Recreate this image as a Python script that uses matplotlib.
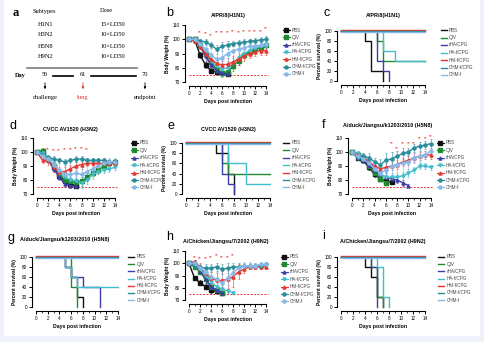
import matplotlib
matplotlib.use("Agg")
import matplotlib.pyplot as plt
from matplotlib.lines import Line2D
from matplotlib.patches import Rectangle, FancyArrowPatch

plt.rcParams['font.family'] = ['Liberation Sans', 'DejaVu Sans']

W, H = 484, 342

groups = ['PBS', 'QIV', 'rHA/CPG', 'HA-f/CPG', 'HM-f/CPG', 'CHM-f/CPG', 'CHM-f']
colors = ['#111111', '#1f8a30', '#3b3fa6', '#45bccb', '#e8372f', '#2b8d9b', '#86b8ea']
markers = ['s', 's', '^', 'v', '^', 'o', 'o']

# panel a
subtypes = ['H1N1', 'H3N2', 'H5N8', 'H9N2']
doses = ['15×LD50', '10×LD50', '10×LD50', '10×LD50']
days_tl = ['56', '61', '70']
events = ['challenge', 'lung', 'endpoint']

# body weight (%) per day, order follows groups
b_title = 'A/PR/8(H1N1)'
b_weight = [
    [100, 100, 89, 82, 78, 77, 76, 75.5],
    [100, 100, 96, 90, 84, 79, 76.5, 77, 81, 85, 89, 91, 93, 94, 96],
    [100, 99, 95, 88, 82, 78, 76, 75.5],
    [100, 99, 96, 91, 85, 81, 79, 80, 83, 87, 90, 92, 94, 95, 95],
    [100, 99, 95, 90, 86, 83, 82, 82.5, 84, 86, 88, 90, 91, 92, 92],
    [100, 100, 99, 98, 96, 93, 95, 96, 97, 97.5, 98, 98.5, 99, 99.5, 100],
    [100, 100, 97, 93, 89, 86, 87, 90, 92, 93, 94, 95, 95, 96, 97],
]
b_err = [
    [0, 1, 2, 2, 2, 1, 1, 1],
    [0, 1, 2, 2, 3, 3, 3, 3, 3, 3, 2, 2, 2, 2, 2],
    [0, 1, 2, 3, 2, 2, 1, 1],
    [0, 1, 2, 3, 3, 3, 4, 5, 4, 4, 3, 3, 3, 3, 3],
    [0, 1, 2, 2, 3, 3, 3, 4, 4, 4, 3, 3, 3, 3, 3],
    [0, 1, 1, 2, 2, 3, 3, 3, 2, 2, 2, 2, 2, 2, 2],
    [0, 1, 2, 3, 5, 6, 7, 6, 5, 4, 4, 3, 3, 3, 3],
]
b_stars = [2, 3, 4, 5, 6, 7, 8, 9, 10, 11, 12, 13, 14]
b_star_y = [103, 102, 101, 103, 103, 103, 104, 103, 104, 104, 104, 104, 106]

d_title = 'CVCC AV1520 (H3N2)'
d_weight = [
    [100, 99, 95, 89, 83, 79, 77, 76],
    [100, 101, 95, 90, 84, 80, 79, 78.5, 79, 82, 85, 87, 90, 92, 93],
    [100, 98, 94, 88, 82, 77, 76, 75.5],
    [100, 99, 96, 91, 85, 82, 80, 79, 78, 80, 84, 86, 87, 88, 89],
    [100, 94, 94, 89, 86, 86, 88, 90, 91, 92, 92, 92, 92, 92, 92],
    [100, 98, 96, 95, 94, 93, 94, 95, 95, 94, 94, 94, 94, 93, 93],
    [100, 97, 95, 91, 87, 84, 84, 85, 84, 86, 88, 90, 92, 93, 93],
]
d_err = [
    [0, 1, 2, 2, 2, 2, 1, 1],
    [0, 2, 2, 3, 3, 3, 3, 3, 3, 3, 2, 2, 2, 2, 2],
    [0, 1, 2, 2, 2, 2, 1, 1],
    [0, 1, 2, 3, 3, 3, 4, 4, 4, 3, 3, 2, 2, 2, 2],
    [0, 2, 3, 3, 3, 3, 3, 3, 3, 2, 2, 2, 2, 2, 2],
    [0, 1, 2, 2, 2, 2, 2, 2, 2, 2, 2, 2, 2, 2, 2],
    [0, 2, 3, 4, 5, 6, 6, 6, 5, 4, 3, 3, 3, 3, 3],
]
d_stars = [2, 3, 4, 5, 6, 7, 8, 9]
d_star_y = [100, 99, 99, 100, 100, 101, 101, 100]

f_title = 'A/duck/Jiangsu/k1203/2010 (H5N8)'
f_weight = [
    [100, 96, 94, 89, 84, 81, 79, 78.5],
    [100, 98, 95, 90, 85, 81, 78],
    [100, 97, 94, 91, 87, 84, 82, 81, 80, 78, 76],
    [100, 99, 97, 93, 88, 84, 82, 82, 82, 83, 85, 87, 90, 90, 89],
    [100, 98, 96, 93, 90, 88, 89, 90, 91, 93, 94, 96, 97, 98, 98],
    [100, 96, 97, 96, 93, 91, 94, 95, 97, 99, 100, 103, 104, 105, 106],
    [100, 97, 95, 92, 88, 85, 87, 90, 91, 92, 93, 96, 97, 98, 101],
]
f_err = [
    [0, 2, 2, 2, 2, 2, 1, 1],
    [0, 1, 2, 3, 3, 2, 1],
    [0, 2, 2, 3, 3, 3, 3, 2, 2, 2, 1],
    [0, 1, 2, 3, 3, 3, 3, 3, 3, 3, 3, 2, 2, 2, 2],
    [0, 2, 2, 3, 3, 3, 3, 3, 3, 3, 3, 3, 3, 3, 3],
    [0, 2, 2, 3, 3, 4, 5, 5, 4, 4, 3, 3, 3, 3, 3],
    [0, 2, 3, 4, 5, 6, 9, 10, 9, 7, 5, 4, 4, 3, 3],
]
f_stars = [7, 8, 9, 10, 11, 12, 13, 14]
f_star_y = [104, 101, 104, 104, 104, 108, 108, 109]

h_title = 'A/Chicken/Jiangsu/7/2002 (H9N2)'
h_weight = [
    [100, 88, 84, 81, 78, 77, 76],
    [100, 97, 93, 87, 81, 78, 76],
    [100, 101, 94, 87, 81, 78, 76],
    [100, 99, 95, 90, 85, 81, 79, 77.5, 76],
    [100, 101, 97, 92, 88, 86, 86, 87, 89, 93, 95, 97, 97, 97, 97],
    [100, 98, 97, 96, 96, 97, 95, 96, 97, 97, 98, 98, 98, 98, 99],
    [100, 100, 96, 93, 89, 87, 84, 88, 92, 96, 98, 98, 98, 99, 99],
]
h_err = [
    [0, 2, 2, 2, 2, 1, 1],
    [0, 2, 2, 3, 3, 2, 1],
    [0, 2, 2, 3, 3, 2, 1],
    [0, 1, 2, 3, 3, 3, 3, 2, 1],
    [0, 2, 3, 4, 5, 6, 8, 8, 8, 6, 3, 2, 2, 2, 2],
    [0, 2, 2, 3, 3, 3, 4, 4, 3, 3, 2, 2, 2, 2, 2],
    [0, 1, 3, 4, 5, 6, 7, 6, 5, 4, 3, 3, 2, 2, 2],
]
h_stars = [1, 2, 3, 4, 5, 6, 7, 8]
h_star_y = [103, 102, 102, 103, 104, 103, 103, 104]

# survival: event days and percent surviving, order follows groups
c_days = [[0, 4, 5, 7], [0, 6, 7, 14], [0, 6, 7, 8], [0, 7, 9, 14], [0, 14], [0, 14], [0, 14]]
c_surv = [[100, 80, 20, 0], [100, 80, 40, 40], [100, 40, 20, 0], [100, 60, 40, 40], [100, 100], [100, 100], [100, 100]]

e_days = [[0, 5, 7, 8], [0, 6, 7, 14], [0, 6, 7, 8], [0, 7, 10, 14], [0, 14], [0, 14], [0, 14]]
e_surv = [[100, 80, 40, 0], [100, 60, 40, 40], [100, 40, 20, 0], [100, 60, 20, 20], [100, 100], [100, 100], [100, 100]]

g_days = [[0, 5, 6, 7, 8], [0, 6, 7], [0, 5, 6, 8, 11], [0, 5, 6, 7, 14], [0, 14], [0, 14], [0, 14]]
g_surv = [[100, 80, 60, 20, 0], [100, 40, 0], [100, 80, 60, 40, 0], [100, 80, 60, 40, 40], [100, 100], [100, 100], [100, 100]]

i_days = [[0, 4, 5, 6, 7], [0, 5, 6, 7], [0, 5, 6], [0, 6, 7, 8], [0, 14], [0, 14], [0, 14]]
i_surv = [[100, 80, 60, 20, 0], [100, 80, 20, 0], [100, 80, 0], [100, 80, 20, 0], [100, 100], [100, 100], [100, 100]]

fig = plt.figure(figsize=(W / 100, H / 100), dpi=100)
fig.patch.set_facecolor('#eef2f9')
fig.add_artist(Rectangle((4 / W, 1 - 336 / H), 476 / W, 336 / H, transform=fig.transFigure,
                         facecolor='white', edgecolor='none', zorder=0))


def fx(x):
    return x / W


def fy(y):
    return 1 - y / H


def px_axes(x0, x1, ytop, ybot):
    return fig.add_axes([fx(x0), fy(ybot), (x1 - x0) / W, (ybot - ytop) / H])


def style(ax, ylabel):
    for s in ['top', 'right']:
        ax.spines[s].set_visible(False)
    for s in ['left', 'bottom']:
        ax.spines[s].set_position(('outward', 3))
        ax.spines[s].set_linewidth(0.8)
    ax.set_xlim(0, 14)
    ax.set_xticks(range(0, 15, 2))
    ax.set_xticks(range(0, 15), minor=True)
    ax.tick_params(length=2, width=0.7, labelsize=3.3, pad=1.5)
    ax.tick_params(which='minor', length=1.2, width=0.5)
    ax.set_xlabel('Days post infection', fontsize=3.7, fontweight='bold', labelpad=2)
    ax.set_ylabel(ylabel, fontsize=3.4, fontweight='bold', labelpad=1.5)
    ax.patch.set_alpha(0)


def legend(xm, xt, ytop, step, lines):
    for k, g in enumerate(groups):
        y = fy(ytop + k * step)
        if lines:
            fig.add_artist(Line2D([fx(xm - 3), fx(xm + 3)], [y, y], color=colors[k], lw=1.0))
        else:
            fig.add_artist(Line2D([fx(xm - 3.5), fx(xm + 3.5)], [y, y], color=colors[k], lw=0.8))
            fig.add_artist(Line2D([fx(xm)], [y], color=colors[k], marker=markers[k], ms=2.2, lw=0))
        fig.text(fx(xt), y, g, fontsize=3.3, va='center', ha='left', color='#444444')


def weight_panel(x0, x1, ytop, ybot, data, err, stars, star_y):
    ax = px_axes(x0, x1, ytop, ybot)
    ax.set_ylim(70, 110)
    ax.set_yticks([70, 80, 90, 100, 110])
    ax.axhline(75, color='#e8372f', lw=0.7, ls=(0, (2, 1.5)), xmax=1.03, clip_on=False)
    for k, vals in enumerate(data):
        ax.errorbar(range(len(vals)), vals, yerr=err[k], color=colors[k], ecolor=colors[k],
                    elinewidth=0.4, capsize=0.8, capthick=0.4, alpha=1, lw=0, clip_on=False,
                    zorder=2 + k)
        ax.plot(range(len(vals)), vals, color=colors[k], marker=markers[k], ms=2.2,
                lw=1.0, clip_on=False, zorder=10 + k)
    for d, yv in zip(stars, star_y):
        ax.text(d, yv, '**', color='#e8372f', fontsize=3.4, ha='center', va='bottom')
    style(ax, 'Body Weight (%)')
    return ax


def survival_panel(x0, x1, ytop, ybot, days, surv):
    ax = px_axes(x0, x1, ytop, ybot)
    ax.set_ylim(0, 100)
    ax.set_yticks(range(0, 101, 20))
    nudge = [0, 0, 0, 0, 1.2, 0, -1.2]
    for k in range(len(groups)):
        yv = [v + nudge[k] if v == 100 else v for v in surv[k]]
        ax.step(days[k], yv, where='post', color=colors[k], lw=1.0, clip_on=False, zorder=3 + k)
    style(ax, 'Percent survival (%)')
    return ax


# ---- panel a ----
serif = ['Liberation Serif', 'DejaVu Serif']
fig.text(fx(13), fy(13), 'a', fontsize=9, family=serif, fontweight='bold', va='center')
fig.text(fx(33), fy(11), 'Subtypes', fontsize=4.6, family=serif, va='center')
fig.text(fx(100), fy(11), 'Dose', fontsize=4.6, family=serif, va='center')
for k, (s, d) in enumerate(zip(subtypes, doses)):
    yy = fy(24 + k * 11)
    fig.text(fx(38), yy, s, fontsize=4.6, family=serif, va='center')
    fig.text(fx(100), yy, d, fontsize=4.6, family=serif, va='center')
fig.add_artist(Line2D([fx(27), fx(137)], [fy(68), fy(68)], color='#888888', lw=1.3))
fig.text(fx(15), fy(75), 'Day', fontsize=4.6, family=serif, fontweight='bold', va='center')
tl_x = [45, 83, 145]
for xx, dd in zip(tl_x, days_tl):
    fig.text(fx(xx), fy(75), dd, fontsize=4.6, family=serif, va='center', ha='center')
fig.add_artist(Line2D([fx(53), fx(73)], [fy(76), fy(76)], color='black', lw=1.2))
fig.add_artist(Line2D([fx(91), fx(136)], [fy(76), fy(76)], color='black', lw=1.2))
for xx, ev, col in zip(tl_x, events, ['black', '#e8372f', 'black']):
    fig.add_artist(FancyArrowPatch((fx(xx), fy(80)), (fx(xx), fy(92)), transform=fig.transFigure,
                                   arrowstyle='-|>', mutation_scale=3, color=col, lw=0.6))
    fig.text(fx(xx), fy(97), ev, fontsize=4.6, family=serif, va='center', ha='center', color=col)

# ---- weight and survival panels ----
weight_panel(189, 266, 25, 82, b_weight, b_err, b_stars, b_star_y)
survival_panel(341, 425, 31, 81, c_days, c_surv)
weight_panel(37, 115, 138, 194, d_weight, d_err, d_stars, d_star_y)
survival_panel(186, 270, 143, 194, e_days, e_surv)
weight_panel(352, 431, 138, 194, f_weight, f_err, f_stars, f_star_y)
survival_panel(36, 118, 257, 307, g_days, g_surv)
weight_panel(189, 266, 251, 300, h_weight, h_err, h_stars, h_star_y)
survival_panel(341, 425, 257, 307, i_days, i_surv)

titles = [(228, 16, b_title), (383, 16, b_title), (70, 129, d_title), (228, 130, d_title),
          (388, 126, f_title), (65, 240, f_title), (226, 242, h_title), (383, 242, h_title)]
for xx, yy, t in titles:
    fig.text(fx(xx), fy(yy), t, fontsize=3.9, fontweight='bold', ha='center', va='center')

letters = [(166, 13, 'b'), (323, 13, 'c'), (9, 126, 'd'), (168, 126, 'e'), (322, 125, 'f'),
           (8, 238, 'g'), (166, 237, 'h'), (322, 236, 'i')]
for xx, yy, t in letters:
    fig.text(fx(xx), fy(yy), t, fontsize=9, ha='left', va='center')

legend(286, 292, 30, 7.3, False)
legend(444, 449, 30, 7.5, True)
legend(134, 140, 143, 7.4, False)
legend(286, 292, 143, 7.4, True)
legend(440, 446, 143, 7.4, False)
legend(131, 137, 257, 7.2, True)
legend(284, 290, 257, 7.4, False)
legend(441, 447, 257, 7.2, True)

fig.savefig('out.png', dpi=100, facecolor=fig.get_facecolor())
